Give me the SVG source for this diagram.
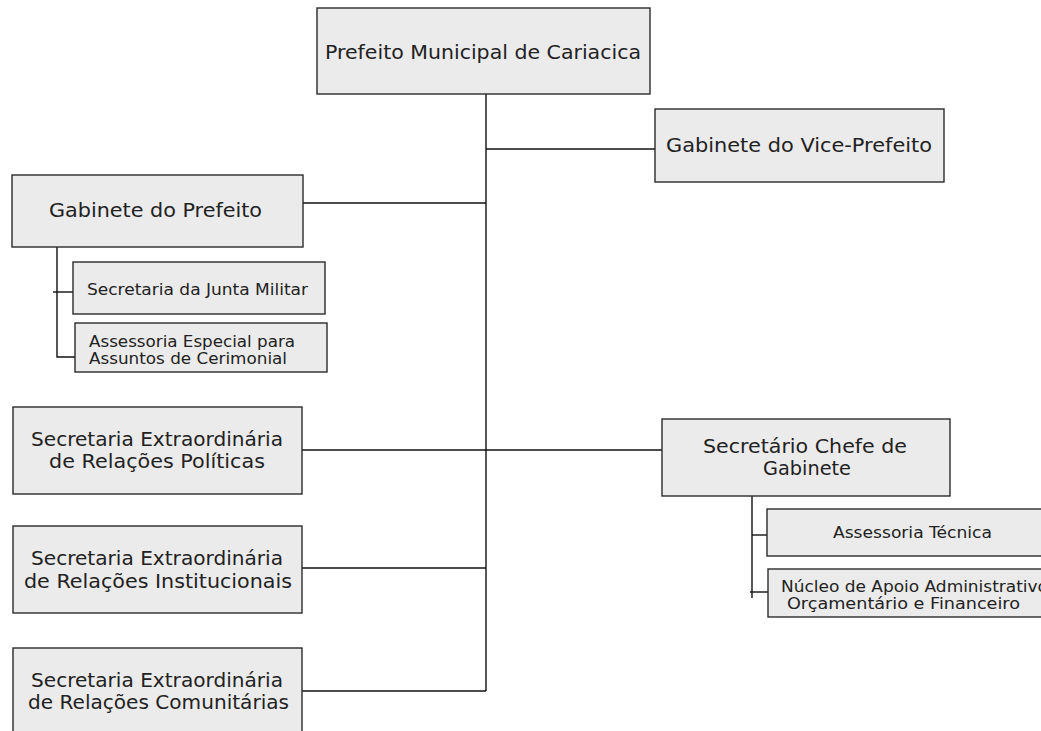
<svg xmlns="http://www.w3.org/2000/svg" width="1041" height="731" viewBox="0 0 1041 731">
<style>
.box{fill:#ebebeb;stroke:#2b2b2b;stroke-width:1.4}
.t{font-family:"DejaVu Sans","Liberation Sans",sans-serif;fill:#222;font-size:19px}
.s{font-family:"DejaVu Sans","Liberation Sans",sans-serif;fill:#222;font-size:16px}
.ln{stroke:#111;stroke-width:1.4;fill:none}
</style>
<rect width="1041" height="731" fill="#ffffff"/>
<g id="connectors">
<path class="ln" d="M486 93 V691"/>
<path class="ln" d="M486 149 H655"/>
<path class="ln" d="M303 203 H486"/>
<path class="ln" d="M302 450 H662"/>
<path class="ln" d="M302 568 H486"/>
<path class="ln" d="M302 691 H486"/>
<path class="ln" d="M57 247 V357 H75"/>
<path class="ln" d="M53 292 H73"/>
<path class="ln" d="M752 496 V598"/>
<path class="ln" d="M752 535 H770"/>
<path class="ln" d="M750 592 H768"/>
</g>
<g id="prefeito">
<rect class="box" x="317" y="8" width="333" height="86"/>
<text class="t" x="325" y="59" font-size="20" textLength="316" lengthAdjust="spacingAndGlyphs">Prefeito Municipal  de Cariacica</text>
</g>
<g id="vice">
<rect class="box" x="655" y="109" width="289" height="73"/>
<text class="t" x="666" y="152" font-size="20" textLength="266" lengthAdjust="spacingAndGlyphs">Gabinete  do Vice-Prefeito</text>
</g>
<g id="gabinete">
<rect class="box" x="12" y="175" width="291" height="72"/>
<text class="t" x="49" y="217" font-size="18" textLength="213" lengthAdjust="spacingAndGlyphs">Gabinete  do Prefeito</text>
</g>
<g id="junta">
<rect class="box" x="73" y="262" width="252" height="52"/>
<text class="s" x="87" y="295" textLength="221" lengthAdjust="spacingAndGlyphs">Secretaria da Junta Militar</text>
</g>
<g id="cerimonial">
<rect class="box" x="75" y="323" width="252" height="49"/>
<text class="s" x="89" y="347" textLength="206" lengthAdjust="spacingAndGlyphs">Assessoria Especial para</text>
<text class="s" x="89" y="364" textLength="198" lengthAdjust="spacingAndGlyphs">Assuntos de Cerimonial</text>
</g>
<g id="politicas">
<rect class="box" x="13" y="407" width="289" height="87"/>
<text class="t" x="31" y="446" textLength="252" lengthAdjust="spacingAndGlyphs">Secretaria Extraordinária</text>
<text class="t" x="49" y="468" textLength="216" lengthAdjust="spacingAndGlyphs">de Relações  Políticas</text>
</g>
<g id="institucionais">
<rect class="box" x="13" y="526" width="289" height="87"/>
<text class="t" x="31" y="565" textLength="252" lengthAdjust="spacingAndGlyphs">Secretaria Extraordinária</text>
<text class="t" x="24" y="588" textLength="268" lengthAdjust="spacingAndGlyphs">de Relações  Institucionais</text>
</g>
<g id="comunitarias">
<rect class="box" x="13" y="648" width="289" height="95"/>
<text class="t" x="31" y="687" textLength="252" lengthAdjust="spacingAndGlyphs">Secretaria Extraordinária</text>
<text class="t" x="28" y="709" textLength="261" lengthAdjust="spacingAndGlyphs">de Relações  Comunitárias</text>
</g>
<g id="chefe">
<rect class="box" x="662" y="419" width="288" height="77"/>
<text class="t" x="703" y="453" textLength="204" lengthAdjust="spacingAndGlyphs">Secretário Chefe de</text>
<text class="t" x="763" y="475" textLength="88" lengthAdjust="spacingAndGlyphs">Gabinete</text>
</g>
<g id="tecnica">
<rect class="box" x="767" y="509" width="300" height="47"/>
<text class="s" x="833" y="538" textLength="159" lengthAdjust="spacingAndGlyphs">Assessoria Técnica</text>
</g>
<g id="nucleo">
<rect class="box" x="768" y="569" width="300" height="48"/>
<text class="s" x="781" y="592" textLength="267" lengthAdjust="spacingAndGlyphs">Núcleo de Apoio Administrativo</text>
<text class="s" x="787" y="609" textLength="233" lengthAdjust="spacingAndGlyphs">Orçamentário e Financeiro</text>
</g>
</svg>
